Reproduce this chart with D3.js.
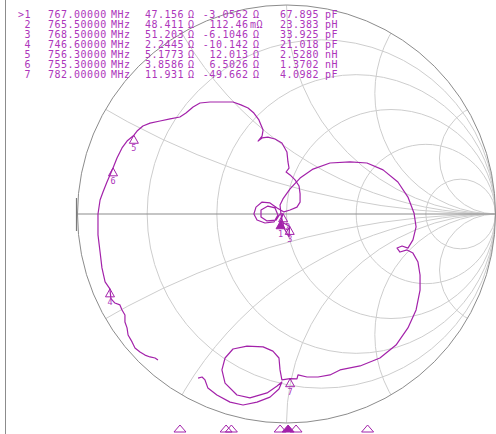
<!DOCTYPE html>
<html><head><meta charset="utf-8">
<script src="https://cdn.jsdelivr.net/npm/d3@7"></script>
<style>
html,body{margin:0;padding:0;background:#fff;}
svg{display:block;}
</style></head><body>
<svg id="chart" width="496" height="434"></svg>
<script>
// Marker readout (reference impedance 50 Ω)
const markerIds = ["1","2","3","4","5","6","7"];
const markerFreqMHz = [767.0, 765.5, 768.5, 746.6, 756.3, 755.3, 782.0];
const markerFreqText = ["767.00000","765.50000","768.50000","746.60000","756.30000","755.30000","782.00000"];
const markerR = [47.156, 48.411, 51.203, 2.2445, 5.1773, 3.8586, 11.931];
const markerX = [-3.0562, 0.11246, -6.1046, -10.142, 12.013, 6.5026, -49.662];
const markerRText = ["47.156","48.411","51.203","2.2445","5.1773","3.8586","11.931"];
const markerXText = ["-3.0562","112.46","-6.1046","-10.142","12.013","6.5026","-49.662"];
const markerXUnit = ["Ω","mΩ","Ω","Ω","Ω","Ω","Ω"];
const markerLCText = ["67.895","23.383","33.925","21.018","2.5280","1.3702","4.0982"];
const markerLCUnit = ["pF","pH","pF","pF","nH","nH","pF"];
const activeMarker = "1";
const z0 = 50;
const sweepMHz = [715, 805];

// Smith grid: constant-resistance circles and constant-reactance arcs
const gridR = [0.2, 0.5, 1, 2, 5];
const gridX = [0.268, 0.577, 1, 1.732, 3.732];

// Measured reflection coefficient trace (real / imaginary parts)
const traceRe = [
 -0.615,-0.629,-0.653,-0.677,-0.701,-0.725,-0.739,-0.758,-0.763,-0.773,-0.773,-0.787,-0.797,-0.821,-0.840,-0.845,
 -0.868,-0.883,-0.892,-0.902,-0.902,-0.892,-0.878,-0.859,-0.830,-0.811,-0.787,-0.763,-0.730,-0.715,-0.687,-0.653,
 -0.605,-0.557,-0.510,-0.481,-0.447,-0.414,-0.366,-0.309,-0.256,-0.218,-0.184,-0.156,-0.132,-0.112,-0.117,-0.136,
 -0.117,-0.089,-0.055,-0.022,0.002,0.007,0.012,-0.002,0.017,0.041,0.060,0.065,0.065,0.050,0.017,
 -0.012,-0.045,-0.079,-0.117,-0.146,-0.156,-0.141,-0.103,-0.060,-0.041,-0.055,-0.089,-0.122,-0.122,-0.093,-0.050,
 -0.031,-0.016,-0.028,-0.010,0.015,0.012,-0.012,-0.026,
 -0.031,-0.017,0.017,0.065,0.127,0.208,0.304,0.385,0.462,0.533,0.581,0.610,0.620,0.605,0.581,0.553,0.529,0.543,
 0.577,0.605,0.629,0.639,0.639,0.620,0.581,0.524,0.447,0.352,0.256,0.208,0.151,0.098,0.055,0.050,0.017,
 -0.022,-0.031,-0.036,-0.065,-0.112,-0.189,-0.256,-0.294,-0.309,-0.294,-0.237,-0.175,-0.093,-0.045,-0.022,-0.036,
 -0.079,-0.141,-0.208,-0.270,-0.333,-0.376,-0.390,-0.404,-0.423
];
const traceIm = [
 -0.699,-0.689,-0.684,-0.675,-0.660,-0.641,-0.612,-0.579,-0.545,-0.517,-0.483,-0.459,-0.435,-0.426,-0.405,-0.358,
 -0.325,-0.258,-0.182,-0.100,0.000,0.067,0.105,0.153,0.220,0.268,0.316,0.349,0.377,0.397,0.421,0.435,
 0.445,0.455,0.464,0.483,0.512,0.531,0.536,0.536,0.536,0.522,0.507,0.483,0.450,0.402,0.373,0.349,
 0.364,0.368,0.359,0.340,0.297,0.249,0.220,0.201,0.187,0.163,0.134,0.096,0.057,0.033,0.019,
 0.010,0.029,0.053,0.057,0.033,0.000,-0.029,-0.043,-0.038,-0.005,0.029,0.038,0.019,-0.014,-0.033,-0.029,
 0.000,0.001,-0.032,-0.045,-0.059,-0.110,-0.067,-0.005,
 0.043,0.072,0.120,0.172,0.215,0.244,0.249,0.244,0.211,0.153,0.081,0.005,-0.062,-0.124,-0.163,-0.153,-0.163,-0.182,
 -0.172,-0.187,-0.230,-0.292,-0.364,-0.459,-0.545,-0.627,-0.689,-0.727,-0.746,-0.770,-0.780,-0.780,-0.770,-0.789,-0.788,
 -0.794,-0.746,-0.689,-0.656,-0.636,-0.632,-0.646,-0.689,-0.746,-0.809,-0.866,-0.880,-0.856,-0.823,-0.804,-0.837,
 -0.876,-0.900,-0.914,-0.900,-0.866,-0.833,-0.794,-0.780,-0.785
];

const svg = d3.select("#chart");
const gx = d3.scaleLinear().domain([-1, 1]).range([77.5, 495.5]);
const gy = d3.scaleLinear().domain([-1, 1]).range([423, 5]);
const unit = gx(1) - gx(0);
const fx = d3.scaleLinear().domain(sweepMHz).range([12.5, 489.5]);

const gridColor = "#cdcdcd", frameColor = "#8c8c8c";
const traceColor = "#a322aa", textColor = "#ad35bb";

// left frame line
svg.append("line").attr("x1", 5.5).attr("x2", 5.5).attr("y1", 0).attr("y2", 434)
  .attr("stroke", frameColor).attr("stroke-width", 1);

const defs = svg.append("defs");
defs.append("clipPath").attr("id", "unitClip").append("circle")
  .attr("cx", gx(0)).attr("cy", gy(0)).attr("r", unit);

const grid = svg.append("g").attr("clip-path", "url(#unitClip)")
  .attr("fill", "none").attr("stroke", gridColor).attr("stroke-width", 1);

grid.selectAll("circle.r").data(gridR).join("circle").attr("class", "r")
  .attr("cx", r => gx(r / (1 + r)))
  .attr("cy", gy(0))
  .attr("r", r => unit / (1 + r));

const arcs = gridX.flatMap(x => [x, -x]);
grid.selectAll("circle.x").data(arcs).join("circle").attr("class", "x")
  .attr("cx", gx(1))
  .attr("cy", x => gy(1 / x))
  .attr("r", x => unit / Math.abs(x));

// outer circle and real axis
svg.append("circle").attr("cx", gx(0)).attr("cy", gy(0)).attr("r", unit)
  .attr("fill", "none").attr("stroke", frameColor).attr("stroke-width", 1);
svg.append("line").attr("x1", gx(-1)).attr("x2", gx(1)).attr("y1", gy(0)).attr("y2", gy(0))
  .attr("stroke", frameColor).attr("stroke-width", 1.2);
svg.append("line").attr("x1", gx(-1) - 1).attr("x2", gx(-1) - 1)
  .attr("y1", gy(0) - 16).attr("y2", gy(0) + 17)
  .attr("stroke", "#7a7a7a").attr("stroke-width", 1.2);

// trace
const pts = traceRe.map((re, i) => [gx(re), gy(traceIm[i])]);
svg.append("path").attr("d", d3.line()(pts))
  .attr("fill", "none").attr("stroke", traceColor).attr("stroke-width", 1.2)
  .attr("stroke-linejoin", "round");

// marker positions from readout impedance
function gammaOf(R, X) {
  const zr = R / z0, zi = X / z0;
  const nr = zr - 1, ni = zi, dr = zr + 1, di = zi;
  const den = dr * dr + di * di;
  return [(nr * dr + ni * di) / den, (ni * dr - nr * di) / den];
}
const markers = markerIds.map((id, i) => {
  const g = gammaOf(markerR[i], markerX[i]);
  return { id, px: gx(g[0]), py: gy(g[1]), f: markerFreqMHz[i] };
});

// keep marker numbers from landing on each other
const placed = [];
markers.forEach(m => {
  let lx = m.px, ly = m.py + 16;
  placed.forEach(p => {
    if (Math.abs(p.x - lx) < 6 && Math.abs(p.y - ly) < 9) lx = p.x + 7;
  });
  placed.push({ x: lx, y: ly });
  m.lx = lx; m.ly = ly;
});

const mg = svg.append("g");
markers.forEach(m => {
  mg.append("path")
    .attr("d", `M${m.px},${m.py} L${m.px - 4.5},${m.py + 8} L${m.px + 4.5},${m.py + 8} Z`)
    .attr("fill", m.id === activeMarker ? traceColor : "none")
    .attr("stroke", traceColor).attr("stroke-width", 1);
  mg.append("text").attr("x", m.lx).attr("y", m.ly)
    .attr("text-anchor", "middle").attr("fill", textColor)
    .attr("font-family", "DejaVu Sans Mono").attr("font-size", 8.5).text(m.id);
});

// stimulus-axis marker flags
markers.forEach(m => {
  const x = fx(m.f);
  svg.append("path")
    .attr("d", `M${x},425 L${x - 6},432 L${x + 6},432 Z`)
    .attr("fill", m.id === activeMarker ? traceColor : "none")
    .attr("stroke", traceColor).attr("stroke-width", 1);
});

// readout table
const table = svg.append("g").attr("fill", textColor)
  .attr("font-family", "DejaVu Sans Mono").attr("font-size", 10)
  .attr("letter-spacing", "0.5px");
markerIds.forEach((id, i) => {
  const y = 17.5 + i * 10.1;
  const row = table.append("g");
  row.append("text").attr("x", 31).attr("y", y).attr("text-anchor", "end")
    .text((id === activeMarker ? ">" : "") + id);
  row.append("text").attr("x", 48).attr("y", y).text(markerFreqText[i]);
  row.append("text").attr("x", 111).attr("y", y).text("MHz");
  row.append("text").attr("x", 184).attr("y", y).attr("text-anchor", "end").text(markerRText[i]);
  row.append("text").attr("x", 188).attr("y", y).text("Ω");
  row.append("text").attr("x", 248.5).attr("y", y).attr("text-anchor", "end").text(markerXText[i]);
  row.append("text").attr("x", markerXUnit[i] === "mΩ" ? 250 : 253).attr("y", y).text(markerXUnit[i]);
  row.append("text").attr("x", 319).attr("y", y).attr("text-anchor", "end").text(markerLCText[i]);
  row.append("text").attr("x", 325).attr("y", y).text(markerLCUnit[i]);
});
</script>
</body></html>
